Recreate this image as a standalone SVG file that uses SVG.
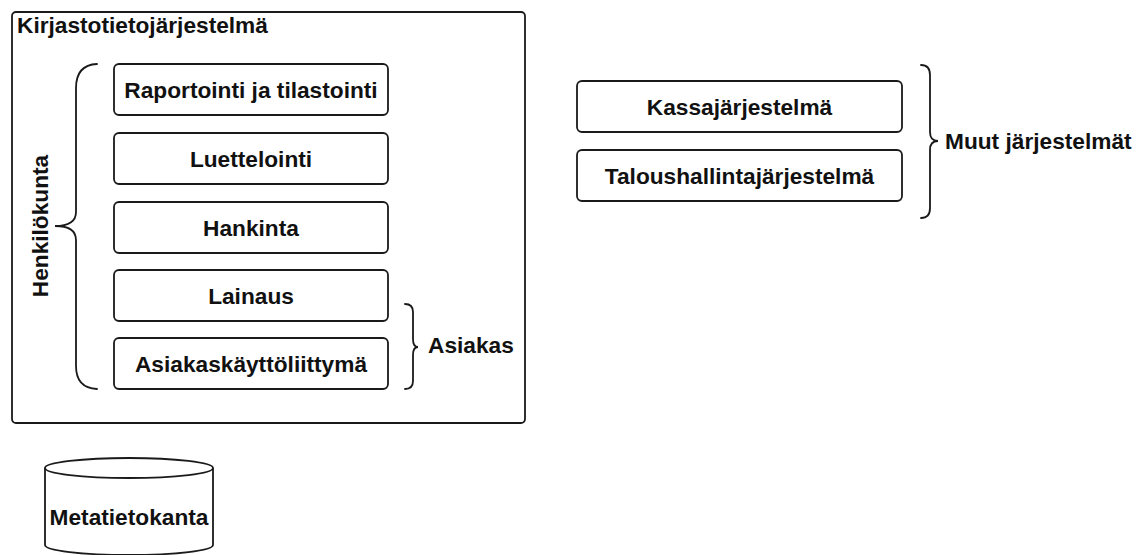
<svg xmlns="http://www.w3.org/2000/svg" width="1140" height="555" viewBox="0 0 1140 555">
  <style>
    .box { fill: #ffffff; stroke: #1a1a1a; stroke-width: 1.8; }
    .brace { fill: none; stroke: #1a1a1a; stroke-width: 1.8; stroke-linecap: round; }
    .lbl { font-family: "Liberation Sans", Arial, sans-serif; font-weight: bold; font-size: 22.7px; fill: #111111; }
    .mid { text-anchor: middle; dominant-baseline: central; }
  </style>
  <rect width="1140" height="555" fill="#ffffff"/>

  <!-- system frame -->
  <g id="kirjastotietojarjestelma">
    <rect class="box" x="12" y="12" width="513" height="411" rx="4"/>
    <text class="lbl" x="17" y="33">Kirjastotietojärjestelmä</text>
  </g>

  <!-- modules -->
  <g id="raportointi">
    <rect class="box" x="114" y="64" width="274" height="51" rx="5"/>
    <text class="lbl mid" x="251" y="89.5">Raportointi ja tilastointi</text>
  </g>
  <g id="luettelointi">
    <rect class="box" x="114" y="133" width="274" height="51" rx="5"/>
    <text class="lbl mid" x="251" y="158.5">Luettelointi</text>
  </g>
  <g id="hankinta">
    <rect class="box" x="114" y="202" width="274" height="51" rx="5"/>
    <text class="lbl mid" x="251" y="227.5">Hankinta</text>
  </g>
  <g id="lainaus">
    <rect class="box" x="114" y="270" width="274" height="51" rx="5"/>
    <text class="lbl mid" x="251" y="295.5">Lainaus</text>
  </g>
  <g id="asiakaskayttoliittyma">
    <rect class="box" x="114" y="338" width="274" height="51" rx="5"/>
    <text class="lbl mid" x="251" y="363.5">Asiakaskäyttöliittymä</text>
  </g>

  <!-- other systems -->
  <g id="kassajarjestelma">
    <rect class="box" x="577" y="81" width="325" height="51" rx="5"/>
    <text class="lbl mid" x="739.5" y="106.5">Kassajärjestelmä</text>
  </g>
  <g id="taloushallintajarjestelma">
    <rect class="box" x="577" y="150" width="325" height="51" rx="5"/>
    <text class="lbl mid" x="739.5" y="175.5">Taloushallintajärjestelmä</text>
  </g>

  <!-- database (bottom rim runs off the lower edge) -->
  <g id="metatietokanta">
    <path class="box" d="M45,468 L45,545 A84,10 0 0 0 213,545 L213,468"/>
    <ellipse class="box" cx="129" cy="468" rx="84" ry="10"/>
    <text class="lbl mid" x="129" y="517">Metatietokanta</text>
  </g>

  <!-- grouping braces -->
  <g id="connectors">
    <path class="brace" d="M97,64 Q76,65 76,88 L76,212 Q76,226 55,226 Q76,226 76,240 L76,366 Q76,388 97,389"/>
    <path class="brace" d="M405,304 Q413,304 413,312 L413,339 Q413,347 418,347 Q413,347 413,355 L413,381 Q413,389 405,389"/>
    <path class="brace" d="M921,65 Q930,65 930,75 L930,132 Q930,141 938,141 Q930,141 930,150 L930,208 Q930,218 921,218"/>
  </g>

  <!-- group labels -->
  <g id="henkilokunta">
    <text class="lbl mid" transform="translate(40,226) rotate(-90)">Henkilökunta</text>
  </g>
  <g id="asiakas">
    <text class="lbl" x="428" y="353">Asiakas</text>
  </g>
  <g id="muut-jarjestelmat">
    <text class="lbl" x="945" y="149">Muut järjestelmät</text>
  </g>
</svg>
